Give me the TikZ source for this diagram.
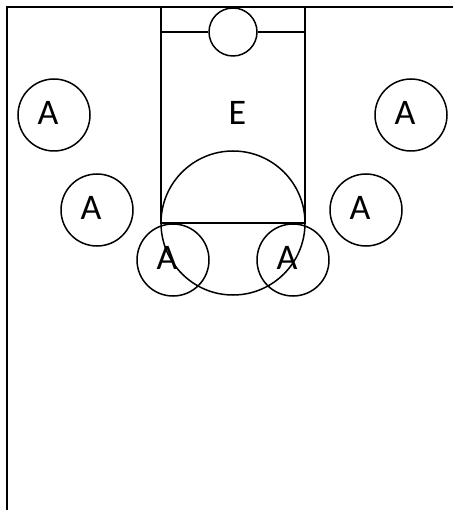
\documentclass[tikz,border=0pt]{standalone}
\usepackage{fontspec}
\setmainfont{Carlito}
\begin{document}
\begin{tikzpicture}[x=1pt,y=-1pt,
  court/.style={line width=2.2pt,black},
  ring/.style={draw,circle,line width=1.5pt,inner sep=0pt},
  letter/.style={font=\fontsize{36}{36}\selectfont,inner sep=0pt},
  player/.style={ring,minimum size=72pt,
    label={[letter,xshift=-6pt,yshift=2pt]center:#1}},
]
\useasboundingbox (0,0) rectangle (453,510);
% court outline
\coordinate (tl) at (7,7);
\coordinate (tr) at (453,7);
\coordinate (bl) at (7,510);
\draw[court] (tr) -- (tl) -- (bl);
% lane
\coordinate (laneTL) at (161,7);
\coordinate (laneBR) at (305,223);
\draw[court] (laneTL) rectangle (laneBR);
% basket circle
\node[ring,minimum size=48pt] (hoop) at (233,32) {};
\coordinate (laneL) at (161,32);
\coordinate (laneR) at (305,32);
\draw[line width=1.8pt] (laneL) -- (hoop.west);
\draw[line width=1.8pt] (hoop.east) -- (laneR);
% free throw circle
\node[ring,minimum size=144pt] (ftc) at (233,223) {};
% label E
\node[letter] (E) at (237.5,112.5) {E};
% players
\node[player=A] (a1) at (54,115) {};
\node[player=A] (a2) at (411,115) {};
\node[player=A] (a3) at (97,210) {};
\node[player=A] (a4) at (366,210) {};
\node[player=A] (a5) at (173,260) {};
\node[player=A] (a6) at (293,260) {};
\end{tikzpicture}
\end{document}
